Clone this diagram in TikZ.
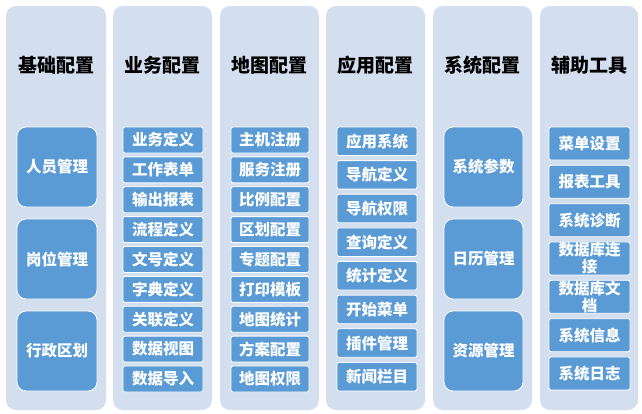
\documentclass[tikz,border=0pt]{standalone}
\usepackage{fontspec}
\newfontfamily\cjk{Noto Sans CJK SC}
\definecolor{colbg}{RGB}{211,222,239}
\definecolor{boxblue}{RGB}{91,155,213}
\tikzset{
  colpanel/.style={fill=colbg, rounded corners=10pt},
  coltitle/.style={font=\cjk\bfseries\fontsize{19}{21}\selectfont, text=black},
  bigbox/.style={draw=white, line width=0.8pt, fill=boxblue, rounded corners=9pt, text=white,
    font=\cjk\bfseries\fontsize{15.5}{17}\selectfont, minimum width=80pt, minimum height=80pt, inner sep=0pt},
  smallbox/.style={draw=white, line width=0.8pt, fill=boxblue, rounded corners=2pt, text=white,
    font=\cjk\bfseries\fontsize{15.5}{17}\selectfont, minimum width=80pt, inner sep=0pt, align=center},
}
\begin{document}
\begin{tikzpicture}[x=1pt,y=-1pt]
\useasboundingbox (0,0) rectangle (642,413);
% column panels
\foreach \l/\r [count=\i] in {6/106,113/212,220/319,326/425,433/532,540/638}{
  \fill[colpanel] (\l,6) rectangle (\r,410);
}
% titles
\node[coltitle] (t1) at (56,65) {基础配置};
\node[coltitle] (t2) at (162.5,65) {业务配置};
\node[coltitle] (t3) at (269.5,65) {地图配置};
\node[coltitle] (t4) at (375.5,65) {应用配置};
\node[coltitle] (t5) at (482.5,65) {系统配置};
\node[coltitle] (t6) at (589,65) {辅助工具};
% column 1
\foreach \t [count=\i from 0] in {人员管理,岗位管理,行政区划}{
  \node[bigbox] (a\i) at (57,{167+92*\i}) {\t};
}
% column 2
\foreach \t [count=\i from 0] in {业务定义,工作表单,输出报表,流程定义,文号定义,字典定义,关联定义,数据视图,数据导入}{
  \node[smallbox, minimum height=26pt] (b\i) at (163,{140+29.875*\i}) {\t};
}
% column 3
\foreach \t [count=\i from 0] in {主机注册,服务注册,比例配置,区划配置,专题配置,打印模板,地图统计,方案配置,地图权限}{
  \node[smallbox, minimum width=78pt, minimum height=26pt] (c\i) at (270,{140+29.875*\i}) {\t};
}
% column 4
\foreach \t [count=\i from 0] in {应用系统,导航定义,导航权限,查询定义,统计定义,开始菜单,插件管理,新闻栏目}{
  \node[smallbox, minimum height=28.5pt] (d\i) at (377,{141.25+33.64*\i}) {\t};
}
% column 5
\foreach \t [count=\i from 0] in {系统参数,日历管理,资源管理}{
  \node[bigbox, minimum width=79pt] (e\i) at (483.5,{167+92*\i}) {\t};
}
% column 6
\foreach \t [count=\i from 0] in {菜单设置,报表工具,系统诊断,数据库连\\接,数据库文\\档,系统信息,系统日志}{
  \node[smallbox, minimum width=81pt, minimum height=33pt] (f\i) at (589.5,{143.5+38.33*\i}) {\t};
}
\end{tikzpicture}
\end{document}
